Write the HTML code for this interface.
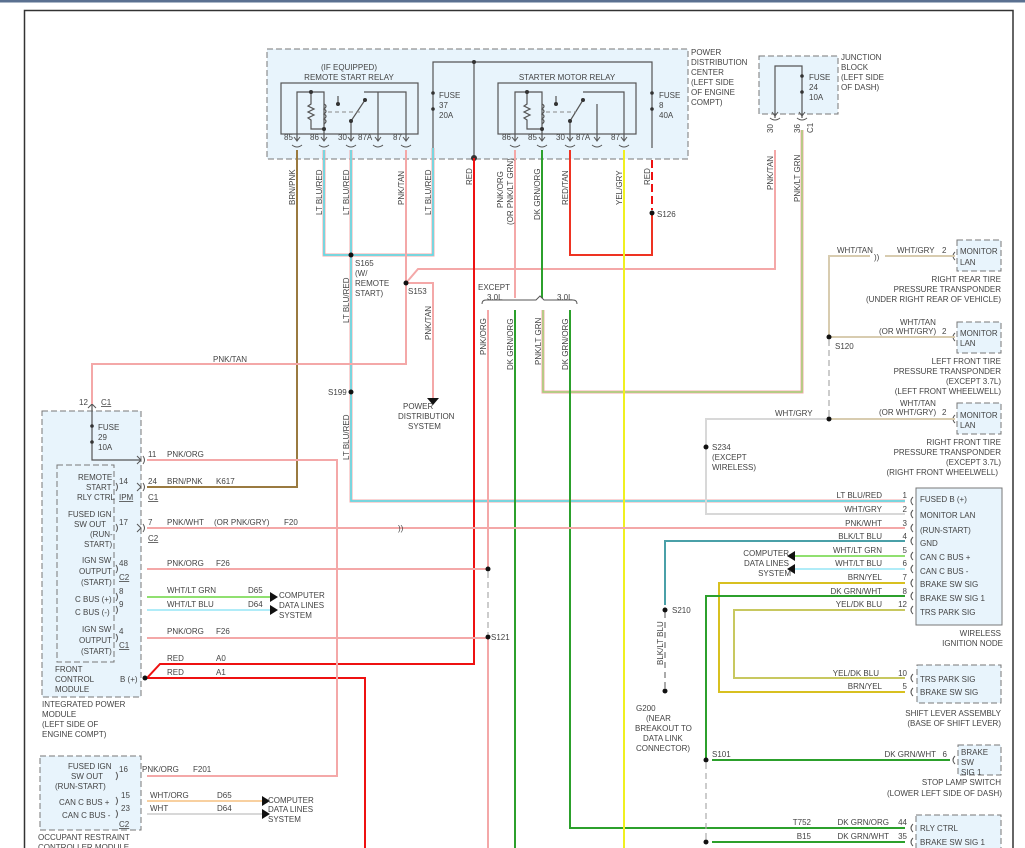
<!DOCTYPE html>
<html><head><meta charset="utf-8"><style>
html,body{margin:0;padding:0;background:#fff;}
svg{display:block;font-family:"Liberation Sans",sans-serif;}
text{font-size:8px;fill:#444;}
</style></head><body>
<svg width="1025" height="848" viewBox="0 0 1025 848" xmlns="http://www.w3.org/2000/svg">
<rect x="0" y="0" width="1025" height="2.5" fill="#5a7090"/>
<path d="M24.5 848V10.5H1013V848" fill="none" stroke="#333" stroke-width="1.5"/>

<!-- boxes -->
<g stroke="#777" stroke-dasharray="6,3" fill="#e8f4fc">
<rect x="267" y="49" width="421" height="110"/>
<rect x="759" y="56" width="79" height="58"/>
<rect x="42" y="411" width="99" height="286"/>
<rect x="40" y="756" width="101" height="74"/>
<rect x="957" y="240" width="44" height="31"/>
<rect x="957" y="322" width="44" height="31"/>
<rect x="957" y="403" width="44" height="31"/>
<rect x="917" y="665" width="84" height="38"/>
<rect x="958" y="745" width="43" height="30"/>
<rect x="916" y="815" width="85" height="40"/>
</g>
<rect x="57" y="465" width="57" height="197" fill="none" stroke="#777" stroke-dasharray="6,3"/>
<rect x="916" y="488" width="86" height="137" fill="#e8f4fc" stroke="#777"/>
<g fill="none" stroke="#555" stroke-width="1.2">
<rect x="281" y="83" width="137" height="51"/>
<rect x="498" y="83" width="138" height="51"/>
<path d="M297 140V92H324V140M351 140V121L365 100M364 92H406V140M378 140V92M338 104V96"/>
<path d="M515 140V92H542V140M570 140V121L583 100M624 140V92H583M597 140V104M556 104V96"/>
<path d="M311 92V104l-3 2 6 3-6 3 6 3-6 3 3 2V129H324M324 104q4 2 0 5q4 2 0 5q4 2 0 5q4 2 0 5"/>
<path d="M527 92V104l-3 2 6 3-6 3 6 3-6 3 3 2V129H542M542 104q4 2 0 5q4 2 0 5q4 2 0 5q4 2 0 5"/>
<path d="M433 148V62H652V148M474 62V158M802 118V66H775V118"/>
<path d="M92 404V460H141"/>
</g>
<path d="M328 112H360M546 112H576" stroke="#888" stroke-dasharray="4,3"/>
<g fill="none" stroke="#555" stroke-width="1">
<path d="M294 137l3 4 3-4M321 137l3 4 3-4M348 137l3 4 3-4M375 137l3 4 3-4M403 137l3 4 3-4M512 137l3 4 3-4M539 137l3 4 3-4M567 137l3 4 3-4M594 137l3 4 3-4M621 137l3 4 3-4M772 112l3 4 3-4M799 112l3 4 3-4"/>
<path d="M292 145q5 4 10 0M319 145q5 4 10 0M346 145q5 4 10 0M373 145q5 4 10 0M401 145q5 4 10 0M510 145q5 4 10 0M537 145q5 4 10 0M565 145q5 4 10 0M592 145q5 4 10 0M619 145q5 4 10 0M770 118q5 4 10 0M797 118q5 4 10 0"/>
<path d="M143 456q3 4 0 8M143 483q3 4 0 8M143 524q3 4 0 8M116 456v0M116 483q3 4 0 8M116 524q3 4 0 8M116 565q3 4 0 8M116 593q3 4 0 8M116 606q3 4 0 8M116 634q3 4 0 8M116 772q3 4 0 8M116 797q3 4 0 8M116 810q3 4 0 8"/>
<path d="M913 497q-4 4 0 8M913 510q-4 4 0 8M913 524q-4 4 0 8M913 537q-4 4 0 8M913 552q-4 4 0 8M913 565q-4 4 0 8M913 579q-4 4 0 8M913 592q-4 4 0 8M913 606q-4 4 0 8M913 674q-4 4 0 8M913 688q-4 4 0 8M955 756q-4 4 0 8M913 824q-4 4 0 8M913 838q-4 4 0 8M955 252q-4 4 0 8M955 333q-4 4 0 8M955 415q-4 4 0 8"/>
<path d="M137 456l4 4-4 4M137 483l4 4-4 4M137 524l4 4-4 4M88 408l4-4 4 4"/>
</g>
<g fill="#333">
<circle cx="311" cy="92" r="2"/><circle cx="324" cy="129" r="2"/><circle cx="351" cy="121" r="2"/><circle cx="365" cy="100" r="2"/><circle cx="338" cy="104" r="2"/>
<circle cx="527" cy="92" r="2"/><circle cx="542" cy="129" r="2"/><circle cx="570" cy="121" r="2"/><circle cx="583" cy="100" r="2"/><circle cx="556" cy="104" r="2"/>
<circle cx="474" cy="62" r="2"/><circle cx="474" cy="158" r="3"/>
<circle cx="433" cy="93" r="1.8"/><circle cx="433" cy="109" r="1.8"/><circle cx="652" cy="93" r="1.8"/><circle cx="652" cy="109" r="1.8"/>
<circle cx="802" cy="76" r="1.8"/><circle cx="802" cy="92" r="1.8"/><circle cx="92" cy="426" r="1.8"/><circle cx="92" cy="442" r="1.8"/>
</g>

<!-- wires -->
<g fill="none" stroke-width="2">
<path d="M297 150V487H147" stroke="#9a7a40"/>
<path d="M324 150V255H433V148" stroke="#f4a8a8" stroke-width="3"/>
<path d="M324 150V255H433V148" stroke="#50e4f0" stroke-width="1.5"/>
<path d="M351 150V501H905" stroke="#f4a8a8" stroke-width="3"/>
<path d="M351 150V501H905" stroke="#50e4f0" stroke-width="1.5"/>
<path d="M406 150V283M406 283V364H92V404M406 283L418 269H775V150M406 283H433V398" stroke="#f4a8a8"/>
<path d="M474 158V664H160L147 678H365V848" stroke="#ee1111"/>
<path d="M515 150V298M488 310V569M488 637V848M147 569H488M147 638H488M147 776H337V460H147" stroke="#f4a8a8"/>
<path d="M542 150V298M515 310V848" stroke="#2ca02c"/>
<path d="M543 310V392H802V130" stroke="#f4a8a8" stroke-width="3"/>
<path d="M543 310V392H802V130" stroke="#90e070" stroke-width="1.2"/>
<path d="M570 310V828H905" stroke="#2ca02c"/>
<path d="M570 150V255H652V215" stroke="#ee3322"/>
<path d="M652 160V210" stroke="#ee1111" stroke-dasharray="8,4"/>
<path d="M624 150V848" stroke="#f0f020"/>
<path d="M147 528H905" stroke="#f4a8a8"/>
<path d="M147 597H270M795 556H905" stroke="#90e070"/>
<path d="M147 610H270M795 569H905" stroke="#b0ecf8"/>
<path d="M147 801H262" stroke="#f8d0a0"/>
<path d="M147 814H262" stroke="#d8d8d8"/>
<path d="M905 514H706V419H829M706 447V419" stroke="#d8d8d8"/>
<path d="M829 337V256H870M885 256H955M829 337H955M829 419H955" stroke="#d8ccb0"/>
<path d="M905 541H665V605" stroke="#4aa0a8"/>
<path d="M905 583H719V692H905" stroke="#d8c020"/>
<path d="M905 610H734V678H905" stroke="#c8c860"/>
<path d="M905 596H706V760M712 760H950M712 842H905" stroke="#2ca02c"/>
</g>
<g fill="none" stroke="#aaa" stroke-dasharray="6,4" stroke-width="1.2">
<path d="M488 572V634M829 340V416M706 763V840"/>
</g>
<path d="M665 612V688" stroke="#555" stroke-dasharray="6,4"/>
<path d="M482 304q0-4 4-4h50l4-4 4 4h29q4 0 4 4" fill="none" stroke="#555"/>
<g fill="#111">
<circle cx="351" cy="255" r="2.5"/><circle cx="406" cy="283" r="2.5"/><circle cx="351" cy="392" r="2.5"/><circle cx="652" cy="213" r="2.5"/>
<circle cx="488" cy="569" r="2.5"/><circle cx="488" cy="637" r="2.5"/><circle cx="829" cy="337" r="2.5"/><circle cx="829" cy="419" r="2.5"/>
<circle cx="706" cy="447" r="2.5"/><circle cx="665" cy="610" r="2.5"/><circle cx="706" cy="760" r="2.5"/><circle cx="706" cy="842" r="2.5"/><circle cx="145" cy="678" r="2.5"/>
<path d="M427 398h12l-6 7z"/><path d="M270 592v10l8-5zM270 605v10l8-5zM262 796v10l8-5zM262 809v10l8-5zM795 551v10l-8-5zM795 564v10l-8-5z"/>
<circle cx="665" cy="691" r="2.5"/>
</g>

<!-- texts -->
<g>
<text x="349" y="70" text-anchor="middle">(IF EQUIPPED)</text>
<text x="349" y="80" text-anchor="middle">REMOTE START RELAY</text>
<text x="567" y="80" text-anchor="middle">STARTER MOTOR RELAY</text>
<text x="439" y="98">FUSE</text><text x="439" y="108">37</text><text x="439" y="118">20A</text>
<text x="659" y="98">FUSE</text><text x="659" y="108">8</text><text x="659" y="118">40A</text>
<text x="809" y="80">FUSE</text><text x="809" y="90">24</text><text x="809" y="100">10A</text>
<text x="98" y="430">FUSE</text><text x="98" y="440">29</text><text x="98" y="450">10A</text>
<text x="284" y="140">85</text><text x="310" y="140">86</text><text x="338" y="140">30</text><text x="358" y="140">87A</text><text x="393" y="140">87</text>
<text x="502" y="140">86</text><text x="528" y="140">85</text><text x="556" y="140">30</text><text x="576" y="140">87A</text><text x="611" y="140">87</text>
<text x="691" y="55">POWER</text><text x="691" y="65">DISTRIBUTION</text><text x="691" y="75">CENTER</text><text x="691" y="85">(LEFT SIDE</text><text x="691" y="95">OF ENGINE</text><text x="691" y="105">COMPT)</text>
<text x="841" y="60">JUNCTION</text><text x="841" y="70">BLOCK</text><text x="841" y="80">(LEFT SIDE</text><text x="841" y="90">OF DASH)</text>
</g>
<g>
<text transform="translate(295,205) rotate(-90)">BRN/PNK</text>
<text transform="translate(322,215) rotate(-90)">LT BLU/RED</text>
<text transform="translate(349,215) rotate(-90)">LT BLU/RED</text>
<text transform="translate(404,205) rotate(-90)">PNK/TAN</text>
<text transform="translate(431,215) rotate(-90)">LT BLU/RED</text>
<text transform="translate(472,185) rotate(-90)">RED</text>
<text transform="translate(503,208) rotate(-90)">PNK/ORG</text>
<text transform="translate(513,225) rotate(-90)">(OR PNK/LT GRN)</text>
<text transform="translate(540,220) rotate(-90)">DK GRN/ORG</text>
<text transform="translate(568,205) rotate(-90)">RED/TAN</text>
<text transform="translate(622,205) rotate(-90)">YEL/GRY</text>
<text transform="translate(650,185) rotate(-90)">RED</text>
<text transform="translate(773,190) rotate(-90)">PNK/TAN</text>
<text transform="translate(800,202) rotate(-90)">PNK/LT GRN</text>
<text transform="translate(773,133) rotate(-90)">30</text>
<text transform="translate(800,133) rotate(-90)">36</text>
<text transform="translate(813,133) rotate(-90)">C1</text>
<text transform="translate(349,323) rotate(-90)">LT BLU/RED</text>
<text transform="translate(349,460) rotate(-90)">LT BLU/RED</text>
<text transform="translate(431,340) rotate(-90)">PNK/TAN</text>
<text transform="translate(486,355) rotate(-90)">PNK/ORG</text>
<text transform="translate(513,370) rotate(-90)">DK GRN/ORG</text>
<text transform="translate(541,365) rotate(-90)">PNK/LT GRN</text>
<text transform="translate(568,370) rotate(-90)">DK GRN/ORG</text>
<text transform="translate(663,665) rotate(-90)">BLK/LT BLU</text>
</g>
<g>
<text x="355" y="266">S165</text><text x="355" y="276">(W/</text><text x="355" y="286">REMOTE</text><text x="355" y="296">START)</text>
<text x="408" y="294">S153</text><text x="657" y="217">S126</text><text x="328" y="395">S199</text>
<text x="403" y="409">POWER</text><text x="398" y="419">DISTRIBUTION</text><text x="408" y="429">SYSTEM</text>
<text x="478" y="290">EXCEPT</text><text x="487" y="300">3.0L</text><text x="557" y="300">3.0L</text>
<text x="213" y="362">PNK/TAN</text>
<text x="79" y="405">12</text><text x="101" y="405" text-decoration="underline">C1</text>
<text x="78" y="480">REMOTE</text><text x="86" y="490">START</text><text x="77" y="500">RLY CTRL</text>
<text x="68" y="517">FUSED IGN</text><text x="74" y="527">SW OUT</text><text x="90" y="537">(RUN-</text><text x="84" y="547">START)</text>
<text x="82" y="563">IGN SW</text><text x="79" y="574">OUTPUT</text><text x="81" y="585">(START)</text>
<text x="75" y="602">C BUS (+)</text><text x="75" y="615">C BUS (-)</text>
<text x="82" y="632">IGN SW</text><text x="79" y="643">OUTPUT</text><text x="81" y="654">(START)</text>
<text x="55" y="672">FRONT</text><text x="55" y="682">CONTROL</text><text x="55" y="692">MODULE</text><text x="120" y="682">B (+)</text>
<text x="42" y="707">INTEGRATED POWER</text><text x="42" y="717">MODULE</text><text x="42" y="727">(LEFT SIDE OF</text><text x="42" y="737">ENGINE COMPT)</text>
<text x="148" y="457">11</text><text x="167" y="457">PNK/ORG</text>
<text x="119" y="484">14</text><text x="148" y="484">24</text><text x="167" y="484">BRN/PNK</text><text x="216" y="484">K617</text>
<text x="119" y="500" text-decoration="underline">IPM</text><text x="148" y="500" text-decoration="underline">C1</text>
<text x="119" y="525">17</text><text x="148" y="525">7</text><text x="167" y="525">PNK/WHT</text><text x="214" y="525">(OR PNK/GRY)</text><text x="284" y="525">F20</text>
<text x="148" y="541" text-decoration="underline">C2</text><text x="398" y="531">))</text>
<text x="119" y="566">48</text><text x="167" y="566">PNK/ORG</text><text x="216" y="566">F26</text><text x="119" y="580" text-decoration="underline">C2</text>
<text x="119" y="594">8</text><text x="167" y="593">WHT/LT GRN</text><text x="248" y="593">D65</text>
<text x="119" y="607">9</text><text x="167" y="607">WHT/LT BLU</text><text x="248" y="607">D64</text>
<text x="279" y="598">COMPUTER</text><text x="279" y="608">DATA LINES</text><text x="279" y="618">SYSTEM</text>
<text x="119" y="634">4</text><text x="167" y="634">PNK/ORG</text><text x="216" y="634">F26</text><text x="119" y="648" text-decoration="underline">C1</text>
<text x="167" y="661">RED</text><text x="216" y="661">A0</text><text x="167" y="675">RED</text><text x="216" y="675">A1</text>
<text x="491" y="640">S121</text>
<text x="68" y="769">FUSED IGN</text><text x="71" y="779">SW OUT</text><text x="55" y="789">(RUN-START)</text>
<text x="59" y="805">CAN C BUS +</text><text x="62" y="818">CAN C BUS -</text>
<text x="119" y="772">16</text><text x="142" y="772">PNK/ORG</text><text x="193" y="772">F201</text>
<text x="121" y="798">15</text><text x="150" y="798">WHT/ORG</text><text x="217" y="798">D65</text>
<text x="121" y="811">23</text><text x="150" y="811">WHT</text><text x="217" y="811">D64</text>
<text x="119" y="827" text-decoration="underline">C2</text>
<text x="268" y="803">COMPUTER</text><text x="268" y="812">DATA LINES</text><text x="268" y="822">SYSTEM</text>
<text x="38" y="840">OCCUPANT RESTRAINT</text><text x="38" y="850">CONTROLLER MODULE</text>
</g>
<g>
<text x="837" y="253">WHT/TAN</text><text x="874" y="260">))</text><text x="897" y="253">WHT/GRY</text><text x="942" y="253">2</text>
<text x="960" y="254">MONITOR</text><text x="960" y="265">LAN</text>
<text x="1001" y="282" text-anchor="end">RIGHT REAR TIRE</text><text x="1001" y="292" text-anchor="end">PRESSURE TRANSPONDER</text><text x="1001" y="302" text-anchor="end">(UNDER RIGHT REAR OF VEHICLE)</text>
<text x="900" y="325">WHT/TAN</text><text x="879" y="334">(OR WHT/GRY)</text><text x="942" y="334">2</text>
<text x="960" y="336">MONITOR</text><text x="960" y="346">LAN</text>
<text x="835" y="349">S120</text>
<text x="1001" y="364" text-anchor="end">LEFT FRONT TIRE</text><text x="1001" y="374" text-anchor="end">PRESSURE TRANSPONDER</text><text x="1001" y="384" text-anchor="end">(EXCEPT 3.7L)</text><text x="1001" y="394" text-anchor="end">(LEFT FRONT WHEELWELL)</text>
<text x="900" y="406">WHT/TAN</text><text x="879" y="415">(OR WHT/GRY)</text><text x="942" y="415">2</text><text x="775" y="416">WHT/GRY</text>
<text x="960" y="418">MONITOR</text><text x="960" y="428">LAN</text>
<text x="1001" y="445" text-anchor="end">RIGHT FRONT TIRE</text><text x="1001" y="455" text-anchor="end">PRESSURE TRANSPONDER</text><text x="1001" y="465" text-anchor="end">(EXCEPT 3.7L)</text><text x="998" y="475" text-anchor="end">(RIGHT FRONT WHEELWELL)</text>
<text x="712" y="450">S234</text><text x="712" y="460">(EXCEPT</text><text x="712" y="470">WIRELESS)</text>
</g>
<g text-anchor="end">
<text x="882" y="498">LT BLU/RED</text><text x="907" y="498">1</text>
<text x="882" y="512">WHT/GRY</text><text x="907" y="512">2</text>
<text x="882" y="526">PNK/WHT</text><text x="907" y="526">3</text>
<text x="882" y="539">BLK/LT BLU</text><text x="907" y="539">4</text>
<text x="882" y="553">WHT/LT GRN</text><text x="907" y="553">5</text>
<text x="882" y="566">WHT/LT BLU</text><text x="907" y="566">6</text>
<text x="882" y="580">BRN/YEL</text><text x="907" y="580">7</text>
<text x="882" y="594">DK GRN/WHT</text><text x="907" y="594">8</text>
<text x="882" y="607">YEL/DK BLU</text><text x="907" y="607">12</text>
<text x="789" y="556">COMPUTER</text><text x="789" y="566">DATA LINES</text><text x="791" y="576">SYSTEM</text>
<text x="879" y="676">YEL/DK BLU</text><text x="907" y="676">10</text>
<text x="882" y="689">BRN/YEL</text><text x="907" y="689">5</text>
<text x="1001" y="636">WIRELESS</text><text x="1003" y="646">IGNITION NODE</text>
<text x="1001" y="716">SHIFT LEVER ASSEMBLY</text><text x="1001" y="726">(BASE OF SHIFT LEVER)</text>
<text x="936" y="757">DK GRN/WHT</text><text x="947" y="757">6</text>
<text x="1001" y="785">STOP LAMP SWITCH</text><text x="1002" y="796">(LOWER LEFT SIDE OF DASH)</text>
<text x="811" y="825">T752</text><text x="889" y="825">DK GRN/ORG</text><text x="907" y="825">44</text>
<text x="811" y="839">B15</text><text x="889" y="839">DK GRN/WHT</text><text x="907" y="839">35</text>
</g>
<g>
<text x="920" y="502">FUSED B (+)</text><text x="920" y="518">MONITOR LAN</text><text x="920" y="533">(RUN-START)</text><text x="920" y="546">GND</text>
<text x="920" y="560">CAN C BUS +</text><text x="920" y="574">CAN C BUS -</text><text x="920" y="587">BRAKE SW SIG</text><text x="920" y="601">BRAKE SW SIG 1</text><text x="920" y="615">TRS PARK SIG</text>
<text x="920" y="682">TRS PARK SIG</text><text x="920" y="695">BRAKE SW SIG</text>
<text x="961" y="755">BRAKE</text><text x="961" y="765">SW</text><text x="961" y="775">SIG 1</text>
<text x="920" y="831">RLY CTRL</text><text x="920" y="845">BRAKE SW SIG 1</text>
<text x="672" y="613">S210</text><text x="712" y="757">S101</text>
<text x="636" y="711">G200</text><text x="646" y="721">(NEAR</text><text x="635" y="731">BREAKOUT TO</text><text x="643" y="741">DATA LINK</text><text x="636" y="751">CONNECTOR)</text>
</g>
</svg>
</body></html>
